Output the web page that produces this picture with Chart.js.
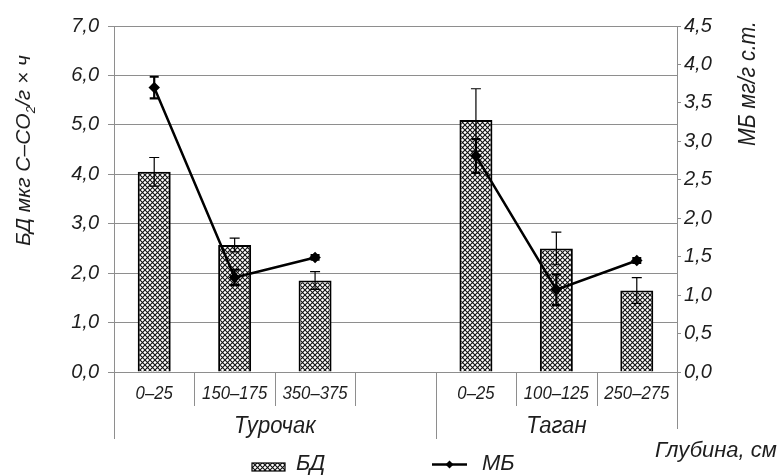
<!DOCTYPE html>
<html>
<head>
<meta charset="utf-8">
<script src="https://cdn.jsdelivr.net/npm/chart.js@4/dist/chart.umd.min.js"></script>
<style>
  html, body { margin: 0; padding: 0; background: #fff; }
  canvas { display: block; }
</style>
</head>
<body>
<canvas id="chart" width="779" height="475"></canvas>
<script>
// Depth intervals (cm); the empty slot separates the two sites
const categories = ['0–25', '150–175', '350–375', '', '0–25', '100–125', '250–275'];
const siteNames = ['Турочак', 'Таган'];
const siteSpans = [[0, 3], [4, 6]]; // first and last category index of each site

// Basal respiration, µg C–CO2 per g per hour
const bdValues = [4.05, 2.57, 1.85, null, 5.10, 2.50, 1.65];
const bdErrors = [0.29, 0.14, 0.18, null, 0.63, 0.33, 0.26];

// Microbial biomass, mg per g of dry soil
const mbValues = [3.70, 1.23, 1.49, null, 2.81, 1.07, 1.45];
const mbErrors = [0.14, 0.10, 0.03, null, 0.22, 0.20, 0.03];

const bdTicks = [0, 1, 2, 3, 4, 5, 6, 7];
const mbTicks = [0, 0.5, 1, 1.5, 2, 2.5, 3, 3.5, 4, 4.5];

const FONT = '"Liberation Sans", Arial, sans-serif';
const TEXT = '#1e1e1e';
const GRID = '#8e8e8e';

// Cross-hatch fill for the bars
function makeHatch() {
  const s = 5;
  const c = document.createElement('canvas');
  c.width = s; c.height = s;
  const p = c.getContext('2d');
  p.fillStyle = '#fff';
  p.fillRect(0, 0, s, s);
  p.strokeStyle = '#111';
  p.lineWidth = 1.1;
  p.beginPath();
  p.moveTo(-1, -1); p.lineTo(s + 1, s + 1);
  p.moveTo(s + 1, -1); p.lineTo(-1, s + 1);
  p.stroke();
  return p.createPattern(c, 'repeat');
}
const hatch = makeHatch();

const fmt = v => v.toFixed(1).replace('.', ',');

function drawErrors(ctx, meta, scale, values, errors, style) {
  ctx.save();
  ctx.strokeStyle = '#000';
  ctx.lineWidth = style.width;
  meta.data.forEach((el, i) => {
    if (values[i] == null || errors[i] == null) return;
    const x = el.x;
    const yTop = scale.getPixelForValue(values[i] + errors[i]);
    const yBot = scale.getPixelForValue(values[i] - errors[i]);
    ctx.beginPath();
    ctx.moveTo(x, yTop); ctx.lineTo(x, yBot);
    ctx.moveTo(x - style.cap, yTop); ctx.lineTo(x + style.cap, yTop);
    ctx.moveTo(x - style.cap, yBot); ctx.lineTo(x + style.cap, yBot);
    ctx.stroke();
  });
  ctx.restore();
}

const errorBarsPlugin = {
  id: 'errorBars',
  afterDatasetDraw(chart, args) {
    const ctx = chart.ctx;
    const ds = chart.data.datasets[args.index];
    if (ds.type === 'bar') {
      drawErrors(ctx, args.meta, chart.scales.y, bdValues, bdErrors, { width: 1.2, cap: 5 });
    } else {
      drawErrors(ctx, args.meta, chart.scales.y1, mbValues, mbErrors, { width: 2.2, cap: 4.5 });
    }
  }
};

// draw text squeezed horizontally
function narrowText(ctx, text, x, y, sx) {
  ctx.save();
  ctx.translate(x, y);
  ctx.scale(sx, 1);
  ctx.fillText(text, 0, 0);
  ctx.restore();
}

// Axis titles, two-level category axis and legend
const decorPlugin = {
  id: 'decor',
  afterDraw(chart) {
    const ctx = chart.ctx;
    const xs = chart.scales.x;
    const area = chart.chartArea;
    const n = categories.length;
    const step = (area.right - area.left) / n;
    const bottom = area.bottom;

    ctx.save();
    ctx.fillStyle = TEXT;
    ctx.textBaseline = 'alphabetic';

    // category labels
    ctx.font = 'italic 19px ' + FONT;
    ctx.textAlign = 'center';
    categories.forEach((c, i) => {
      if (c) narrowText(ctx, c, xs.getPixelForValue(i), bottom + 27, 0.88);
    });

    // separators
    ctx.strokeStyle = GRID;
    ctx.lineWidth = 1;
    for (let k = 0; k <= n; k++) {
      const x = Math.round(area.left + k * step) + 0.5;
      let len = 34;
      if (k === 0 || k === siteSpans[1][0]) len = 67;
      if (k === n) len = 57;
      ctx.beginPath();
      ctx.moveTo(x, bottom);
      ctx.lineTo(x, bottom + len);
      ctx.stroke();
    }

    // site names
    ctx.font = 'italic 23px ' + FONT;
    siteSpans.forEach((sp, j) => {
      const x0 = area.left + sp[0] * step;
      const x1 = area.left + (sp[1] + 1) * step;
      narrowText(ctx, siteNames[j], (x0 + x1) / 2, bottom + 61, 0.96);
    });

    // x title
    ctx.font = 'italic 22px ' + FONT;
    ctx.textAlign = 'left';
    ctx.fillText('Глубина, см', 655, bottom + 85);

    // left y title with subscript
    ctx.save();
    ctx.translate(30, 246);
    ctx.rotate(-Math.PI / 2);
    ctx.textAlign = 'left';
    ctx.font = 'italic 21px ' + FONT;
    let x = 0;
    const part1 = 'БД мкг C–CO';
    ctx.fillText(part1, x, 0);
    x += ctx.measureText(part1).width;
    ctx.font = 'italic 13px ' + FONT;
    ctx.fillText('2', x, 5);
    x += ctx.measureText('2').width;
    ctx.font = 'italic 21px ' + FONT;
    ctx.fillText('/г × ч', x, 0);
    ctx.restore();

    // right y title, stretched to span 125 px
    ctx.save();
    ctx.translate(755, 146);
    ctx.rotate(-Math.PI / 2);
    ctx.textAlign = 'left';
    ctx.font = 'italic 23px ' + FONT;
    const rt = 'МБ мг/г с.т.';
    const rw = ctx.measureText(rt).width;
    ctx.scale(125 / rw, 1);
    ctx.fillText(rt, 0, 0);
    ctx.restore();

    // legend: bars
    ctx.fillStyle = hatch;
    ctx.fillRect(252, 463, 33, 8);
    ctx.strokeStyle = '#000';
    ctx.lineWidth = 1.2;
    ctx.strokeRect(252, 463, 33, 8);
    ctx.fillStyle = TEXT;
    ctx.font = 'italic 22px ' + FONT;
    ctx.textAlign = 'left';
    ctx.fillText('БД', 296, 470);

    // legend: line
    ctx.strokeStyle = '#000';
    ctx.lineWidth = 2.5;
    ctx.beginPath();
    ctx.moveTo(432, 464.5); ctx.lineTo(467, 464.5);
    ctx.stroke();
    ctx.fillStyle = '#000';
    ctx.beginPath();
    ctx.moveTo(449.5, 460.5); ctx.lineTo(453.5, 464.5); ctx.lineTo(449.5, 468.5); ctx.lineTo(445.5, 464.5);
    ctx.closePath(); ctx.fill();
    ctx.fillStyle = TEXT;
    ctx.fillText('МБ', 482, 470);

    ctx.restore();
  }
};

new Chart(document.getElementById('chart'), {
  type: 'bar',
  data: {
    labels: categories,
    datasets: [
      {
        type: 'line',
        label: 'МБ',
        data: mbValues,
        yAxisID: 'y1',
        borderColor: '#000',
        borderWidth: 2.5,
        pointStyle: 'rectRot',
        pointRadius: 4,
        pointBackgroundColor: '#000',
        pointBorderColor: '#000',
        spanGaps: false,
        tension: 0,
        order: 0
      },
      {
        type: 'bar',
        label: 'БД',
        data: bdValues,
        yAxisID: 'y',
        backgroundColor: hatch,
        borderColor: '#000',
        borderWidth: 2,
        barPercentage: 0.41,
        categoryPercentage: 1,
        order: 1
      }
    ]
  },
  options: {
    responsive: false,
    animation: false,
    devicePixelRatio: 1,
    layout: { padding: { top: 26, left: 0, right: 0, bottom: 0 } },
    plugins: { legend: { display: false }, tooltip: { enabled: false } },
    scales: {
      x: {
        grid: { display: false },
        border: { display: false },
        ticks: { display: false },
        afterFit(s) { s.height = 103; }
      },
      y: {
        position: 'left',
        min: 0, max: 7,
        afterBuildTicks(s) { s.ticks = bdTicks.map(v => ({ value: v })); },
        ticks: { callback: v => fmt(v), font: { family: FONT, size: 20, style: 'italic' }, color: TEXT, padding: 9 },
        grid: { color: GRID, lineWidth: 1, tickLength: 6 },
        border: { color: GRID, width: 1 },
        afterFit(s) { s.width = 114; }
      },
      y1: {
        position: 'right',
        min: 0, max: 4.5,
        afterBuildTicks(s) { s.ticks = mbTicks.map(v => ({ value: v })); },
        ticks: { callback: v => fmt(v), font: { family: FONT, size: 20, style: 'italic' }, color: TEXT, padding: 3 },
        grid: { drawOnChartArea: false, color: GRID, lineWidth: 1, tickLength: 4 },
        border: { color: GRID, width: 1 },
        afterFit(s) { s.width = 102; }
      }
    }
  },
  plugins: [errorBarsPlugin, decorPlugin]
});
</script>
</body>
</html>
